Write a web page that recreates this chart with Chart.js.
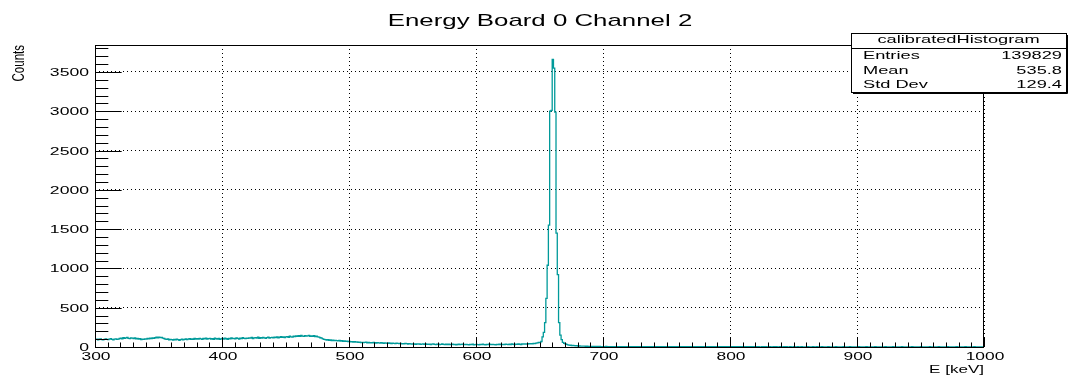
<!DOCTYPE html>
<html>
<head>
<meta charset="utf-8">
<script src="https://cdn.jsdelivr.net/npm/chart.js@4"></script>
<style>
  html, body { margin: 0; padding: 0; background: #ffffff; }
  #wrap { width: 1075px; height: 379px; position: relative; }
</style>
</head>
<body>
<div id="wrap"><canvas id="c"></canvas></div>
<script>
// ---------- data ----------
const chartTitle = "Energy Board 0 Channel 2";
const xAxisTitle = "E [keV]";
const yAxisTitle = "Counts";
const binLow = 300;       // keV, lower edge of first bin
const binWidth = 1;       // keV per bin
const xMin = 300, xMax = 1000;
const yMin = 0, yMax = 3843;

// counts per 1 keV bin, 300 - 649 keV (Compton continuum)
const countsContinuum = [
  96,101,92,99,104,95,90,98,103,97,
  94,100,106,97,92,99,103,96,101,108,
  112,104,118,109,115,121,110,106,116,112,
  108,117,103,111,99,106,94,101,97,104,
  100,108,103,112,106,115,110,118,124,117,
  126,119,122,113,108,101,96,103,92,98,
  95,88,97,91,99,93,86,95,100,92,
  97,103,95,101,107,98,104,96,109,102,
  106,99,111,104,97,108,103,112,100,106,
  110,102,107,98,113,105,101,109,96,104,
  108,100,112,105,97,110,103,115,107,111,
  104,116,109,102,113,107,118,111,106,114,
  109,117,112,121,108,115,119,113,124,110,
  118,112,122,116,109,120,125,114,119,123,
  117,126,120,129,115,124,131,122,127,119,
  128,133,124,137,130,126,139,132,141,135,
  143,136,147,139,134,145,138,142,149,137,
  141,135,144,132,138,129,126,118,112,104,
  98,93,88,95,86,90,83,87,80,85,
  82,78,84,76,80,73,77,71,74,69,
  72,66,69,63,67,61,64,59,62,57,
  60,55,58,61,54,57,52,56,53,58,
  54,50,56,52,49,55,51,47,53,49,
  46,51,48,44,50,46,42,48,45,43,
  47,41,44,39,45,42,38,43,40,37,
  41,38,35,40,36,39,34,37,41,35,
  38,33,37,35,31,36,39,34,32,37,
  35,31,34,38,33,30,36,32,35,29,
  33,36,31,34,28,32,35,30,33,37,
  32,29,34,31,27,33,30,35,28,31,
  34,30,27,32,29,35,31,28,33,30,
  36,32,29,34,31,27,33,30,35,32,
  29,34,31,37,33,30,35,32,38,34,
  31,36,33,39,35,32,38,41,36,40,
  37,42,39,44,41,46,43,49,52,58
];
// 650 - 699 keV (photopeak)
const countsPeak = [
  55,70,130,185,310,620,1040,1550,3000,3010,
  3660,3550,2990,1450,920,310,150,95,60,48,
  40,33,28,24,22,19,21,17,15,16,
  13,14,11,12,10,11,9,10,8,9,
  8,7,9,6,8,7,6,7,5,6
];
// 700 - 999 keV (tail)
const countsTail = [
  6,5,7,4,6,5,4,6,5,4,
  5,6,4,5,3,5,4,6,4,5,
  4,5,3,4,6,4,5,3,4,5,
  4,3,5,4,3,5,4,3,4,5,
  3,4,5,3,4,3,5,4,3,4,
  4,3,4,2,4,3,5,3,4,3,
  3,4,3,4,2,3,4,3,2,4,
  3,2,4,3,3,4,2,3,4,3,
  2,3,4,3,2,3,3,4,2,3,
  3,2,3,4,2,3,2,3,3,2,
  3,2,4,2,3,3,2,3,2,4,
  2,3,2,3,3,2,4,2,3,2,
  3,2,3,2,2,3,3,2,3,2,
  2,3,2,2,3,2,3,2,2,3,
  2,2,3,2,3,2,2,3,2,2,
  3,2,2,3,2,2,3,2,2,2,
  2,3,2,2,2,3,2,2,3,2,
  2,2,3,2,2,2,2,3,2,2,
  2,2,2,3,2,2,2,2,2,3,
  2,2,2,2,3,2,2,2,2,2,
  2,3,2,2,2,2,2,3,2,2,
  2,2,2,2,3,2,2,2,2,2,
  2,2,3,2,2,2,2,2,3,2,
  2,2,2,2,2,3,2,2,2,2,
  2,2,2,3,2,2,2,2,2,2,
  3,2,2,2,2,2,2,3,2,2,
  2,2,2,2,3,2,2,2,2,2,
  2,3,2,2,2,2,2,2,3,2,
  2,2,2,2,2,3,2,2,2,2,
  2,2,3,2,2,2,2,2,2,2
];

const xTickValues = [300, 400, 500, 600, 700, 800, 900, 1000];
const yTickValues = [0, 500, 1000, 1500, 2000, 2500, 3000, 3500];
const xMinorStep = 10;
const yMinorStep = 100;

const statsTitle = "calibratedHistogram";
const statsLabels = ["Entries", "Mean", "Std Dev"];
const statsValues = ["139829", "535.8", "129.4"];

// ---------- build ----------
const counts = countsContinuum.concat(countsPeak, countsTail);
const histPoints = counts.map((c, i) => ({ x: binLow + i * binWidth, y: c }));
histPoints.push({ x: binLow + counts.length * binWidth, y: counts[counts.length - 1] });

const FONT = '"Liberation Sans", Arial, Helvetica, sans-serif';
const lineColor = "#009a9a";

function sText(ctx, text, x, y, align, size, sx) {
  ctx.save();
  ctx.translate(x, y);
  ctx.scale(sx, 1);
  ctx.font = size + "px " + FONT;
  ctx.textAlign = align;
  ctx.textBaseline = "alphabetic";
  ctx.fillStyle = "#000";
  ctx.fillText(text, 0, 0);
  ctx.restore();
}

const rootDecor = {
  id: "rootDecor",
  afterDraw(chart) {
    const ctx = chart.ctx;
    const a = chart.chartArea;
    const xs = chart.scales.x, ys = chart.scales.y;
    ctx.save();
    ctx.strokeStyle = "#000";
    ctx.lineWidth = 1;

    // frame
    ctx.strokeRect(a.left + 0.5, a.top + 0.5, a.right - a.left - 1, a.bottom - a.top);

    // y ticks (inside)
    const yMajorLen = 0.03 * (a.right - a.left);
    ctx.beginPath();
    for (let v = yMin; v <= yMax; v += yMinorStep) {
      const py = Math.round(ys.getPixelForValue(v)) + 0.5;
      const len = (v % 500 === 0) ? yMajorLen : yMajorLen / 2;
      ctx.moveTo(a.left, py);
      ctx.lineTo(a.left + len, py);
    }
    // x ticks (inside)
    const xMajorLen = 0.03 * (a.bottom - a.top);
    for (let v = xMin; v <= xMax; v += xMinorStep) {
      const px = Math.round(xs.getPixelForValue(v)) + 0.5;
      const len = (v % 100 === 0) ? xMajorLen : xMajorLen / 2;
      ctx.moveTo(px, a.bottom);
      ctx.lineTo(px, a.bottom - len);
    }
    ctx.stroke();

    // tick labels
    xs.ticks.forEach(t => {
      const px = xs.getPixelForValue(t.value);
      sText(ctx, String(t.value), px + 1, 360, "center", 11, 1.58);
    });
    ys.ticks.forEach(t => {
      const py = ys.getPixelForValue(t.value);
      sText(ctx, String(t.value), 89, py + 4, "right", 11, 1.6);
    });

    // axis titles
    sText(ctx, xAxisTitle, a.right, 373, "right", 11, 1.55);
    ctx.save();
    ctx.translate(24, a.top);
    ctx.scale(1.5, 1);
    ctx.rotate(-Math.PI / 2);
    ctx.font = "11.5px " + FONT;
    ctx.textAlign = "right";
    ctx.textBaseline = "alphabetic";
    ctx.fillStyle = "#000";
    ctx.fillText(yAxisTitle, 0, 0);
    ctx.restore();

    // title
    sText(ctx, chartTitle, 540, 26, "center", 17, 1.52);

    // stats box
    const bx0 = 851, bx1 = 1066, by0 = 33, by1 = 92;
    ctx.fillStyle = "#fff";
    ctx.fillRect(bx0, by0, bx1 - bx0, by1 - by0);
    ctx.strokeStyle = "#000";
    ctx.lineWidth = 1;
    ctx.strokeRect(bx0 + 0.5, by0 + 0.5, bx1 - bx0, by1 - by0);
    ctx.beginPath();
    ctx.moveTo(bx1 + 1.5, by0 + 2); ctx.lineTo(bx1 + 1.5, by1 + 1.5); ctx.lineTo(bx0 + 2, by1 + 1.5);
    ctx.moveTo(bx0, 48.5); ctx.lineTo(bx1 + 1, 48.5);
    ctx.stroke();
    sText(ctx, statsTitle, (bx0 + bx1) / 2, 42.5, "center", 11.2, 1.63);
    const rowBase = [59, 73.5, 87.5];
    statsLabels.forEach((lab, i) => {
      sText(ctx, lab, 863, rowBase[i], "left", 11.2, 1.63);
      sText(ctx, statsValues[i], 1062, rowBase[i], "right", 11.2, 1.63);
    });
    ctx.restore();
  }
};

new Chart(document.getElementById("c"), {
  type: "line",
  data: {
    datasets: [{
      label: statsTitle,
      data: histPoints,
      stepped: "before",
      borderColor: lineColor,
      borderWidth: 1.3,
      pointRadius: 0,
      fill: false,
      tension: 0
    }]
  },
  options: {
    responsive: true,
    maintainAspectRatio: false,
    devicePixelRatio: 1,
    animation: false,
    events: [],
    layout: { padding: { left: 0, right: 91, top: 45, bottom: 0 } },
    plugins: {
      legend: { display: false },
      title: { display: false },
      tooltip: { enabled: false }
    },
    scales: {
      x: {
        type: "linear",
        min: xMin, max: xMax,
        afterBuildTicks: s => { s.ticks = xTickValues.map(v => ({ value: v })); },
        afterFit: s => { s.height = 32; },
        ticks: { display: false },
        grid: { color: "#000", lineWidth: 1, drawTicks: false },
        border: { display: false, dash: [1, 3] }
      },
      y: {
        type: "linear",
        min: yMin, max: yMax,
        afterBuildTicks: s => { s.ticks = yTickValues.map(v => ({ value: v })); },
        afterFit: s => { s.width = 95; },
        ticks: { display: false },
        grid: { color: "#000", lineWidth: 1, drawTicks: false },
        border: { display: false, dash: [1, 3] }
      }
    }
  },
  plugins: [rootDecor]
});
</script>
</body>
</html>
